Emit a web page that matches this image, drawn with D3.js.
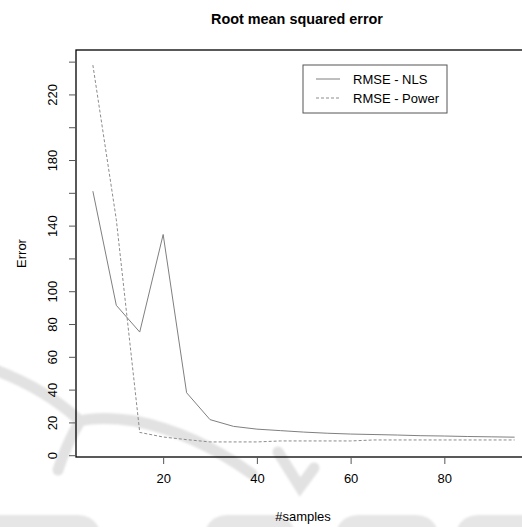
<!DOCTYPE html>
<html>
<head>
<meta charset="utf-8">
<script src="https://cdn.jsdelivr.net/npm/d3@7"></script>
<style>
  html, body { margin: 0; padding: 0; background: #fff; }
  svg { display: block; font-family: "Liberation Sans", Arial, sans-serif; }
</style>
</head>
<body>
<svg id="chart" width="522" height="527"></svg>
<script>
// Number of samples used for each fit
const samples = [5, 10, 15, 20, 25, 30, 35, 40, 45, 50, 55, 60, 65, 70, 75, 80, 85, 90, 95];

// Root mean squared error of the NLS fit
const rmseNls = [161.0, 91.4, 75.1, 134.6, 38.1, 21.7, 17.6, 15.9, 15.0, 14.1, 13.4, 12.9, 12.6, 12.3, 11.9, 11.7, 11.4, 11.2, 11.0];

// Root mean squared error of the power-law fit
const rmsePower = [237.9, 143.7, 13.9, 11.1, 9.5, 8.1, 8.1, 8.1, 8.7, 8.7, 8.7, 8.7, 9.3, 9.3, 9.3, 9.3, 9.3, 9.3, 9.3];

const xTicks = [20, 40, 60, 80];
const yTicks = [0, 20, 40, 60, 80, 100, 120, 140, 160, 180, 200, 220, 240];
const yTickLabels = [0, 20, 40, 60, 80, 100, 140, 180, 220];

const legendLabels = ["RMSE - NLS", "RMSE - Power"];

const svg = d3.select("#chart");

// Faint publisher watermark behind the figure
const wm = svg.append("g")
  .attr("fill", "none")
  .attr("stroke", "#e2e2e2")
  .attr("stroke-width", 11)
  .attr("stroke-linecap", "round")
  .style("filter", "blur(1.2px)");
wm.append("path").attr("d", "M -10,368 Q 45,388 80,421");
wm.append("path").attr("d", "M 80,421 Q 100,416 135,421 Q 195,433 252,474");
wm.append("path").attr("d", "M 80,421 Q 66,445 58,470");
wm.append("path").attr("d", "M 278,452 L 300,487 L 314,468");
const wmFill = svg.append("g").attr("fill", "#e6e6e6").style("filter", "blur(1.2px)");
[[-30, 100], [205, 295], [336, 438], [456, 560]].forEach(([a, b]) => {
  wmFill.append("rect")
    .attr("x", a).attr("y", 515)
    .attr("width", b - a).attr("height", 40)
    .attr("rx", 22);
});

// Plot region (right edge runs past the canvas)
const plot = { left: 76, right: 531.5, top: 50, bottom: 457 };

// Axis ranges padded by 4% of the data range on each side
function padded(values) {
  const [lo, hi] = d3.extent(values);
  const pad = (hi - lo) * 0.04;
  return [lo - pad, hi + pad];
}

const x = d3.scaleLinear()
  .domain(padded(samples))
  .range([plot.left, plot.right]);

const y = d3.scaleLinear()
  .domain(padded(rmseNls.concat(rmsePower)))
  .range([plot.bottom, plot.top]);

// Series
const line = d3.line()
  .x((d, i) => x(samples[i]))
  .y(d => y(d));

svg.append("path")
  .datum(rmseNls)
  .attr("d", line)
  .attr("fill", "none")
  .attr("stroke", "#7f7f7f")
  .attr("stroke-width", 1);

svg.append("path")
  .datum(rmsePower)
  .attr("d", line)
  .attr("fill", "none")
  .attr("stroke", "#8c8c8c")
  .attr("stroke-width", 1)
  .attr("stroke-dasharray", "3,2");

// Plot frame
svg.append("rect")
  .attr("x", plot.left)
  .attr("y", plot.top)
  .attr("width", plot.right - plot.left)
  .attr("height", plot.bottom - plot.top)
  .attr("fill", "none")
  .attr("stroke", "#000")
  .attr("stroke-width", 1.3);

// X axis
const xAxis = d3.axisBottom(x)
  .tickValues(xTicks)
  .tickSize(7)
  .tickPadding(10)
  .tickFormat(d3.format("d"));

const gx = svg.append("g")
  .attr("transform", `translate(0,${plot.bottom})`)
  .call(xAxis);
gx.select(".domain").remove();
gx.selectAll(".tick line").attr("stroke", "#555");
gx.selectAll(".tick text")
  .attr("font-size", 13)
  .attr("font-family", "Liberation Sans, Arial, sans-serif")
  .attr("fill", "#000");

// Y axis
const yAxis = d3.axisLeft(y)
  .tickValues(yTicks)
  .tickSize(7)
  .tickFormat(d => yTickLabels.includes(d) ? d : "");

const gy = svg.append("g")
  .attr("transform", `translate(${plot.left},0)`)
  .call(yAxis);
gy.select(".domain").remove();
gy.selectAll(".tick line").attr("stroke", "#555");
gy.selectAll(".tick text")
  .attr("font-size", 13)
  .attr("font-family", "Liberation Sans, Arial, sans-serif")
  .attr("fill", "#000")
  .attr("text-anchor", "middle")
  .attr("dy", null)
  .attr("x", null)
  .attr("transform", "translate(-19,0) rotate(-90)");

// Titles
svg.append("text")
  .attr("x", 297)
  .attr("y", 24)
  .attr("text-anchor", "middle")
  .attr("font-size", 14.4)
  .attr("font-weight", "bold")
  .text("Root mean squared error");

svg.append("text")
  .attr("x", 303)
  .attr("y", 521)
  .attr("text-anchor", "middle")
  .attr("font-size", 13)
  .text("#samples");

svg.append("text")
  .attr("transform", `translate(26,${(plot.top + plot.bottom) / 2}) rotate(-90)`)
  .attr("text-anchor", "middle")
  .attr("font-size", 13)
  .text("Error");

// Legend
const legend = svg.append("g").attr("transform", "translate(303,65)");
legend.append("rect")
  .attr("width", 144)
  .attr("height", 48)
  .attr("fill", "#fff")
  .attr("stroke", "#555")
  .attr("stroke-width", 1);

const rows = legend.selectAll("g.row")
  .data(legendLabels)
  .join("g")
  .attr("class", "row")
  .attr("transform", (d, i) => `translate(0,${14 + i * 19})`);

rows.append("line")
  .attr("x1", 13)
  .attr("x2", 37)
  .attr("stroke", (d, i) => i === 0 ? "#7f7f7f" : "#8c8c8c")
  .attr("stroke-width", 1)
  .attr("stroke-dasharray", (d, i) => i === 0 ? null : "3,2");

rows.append("text")
  .attr("x", 50)
  .attr("dy", "0.35em")
  .attr("font-size", 13)
  .text(d => d);
</script>
</body>
</html>
